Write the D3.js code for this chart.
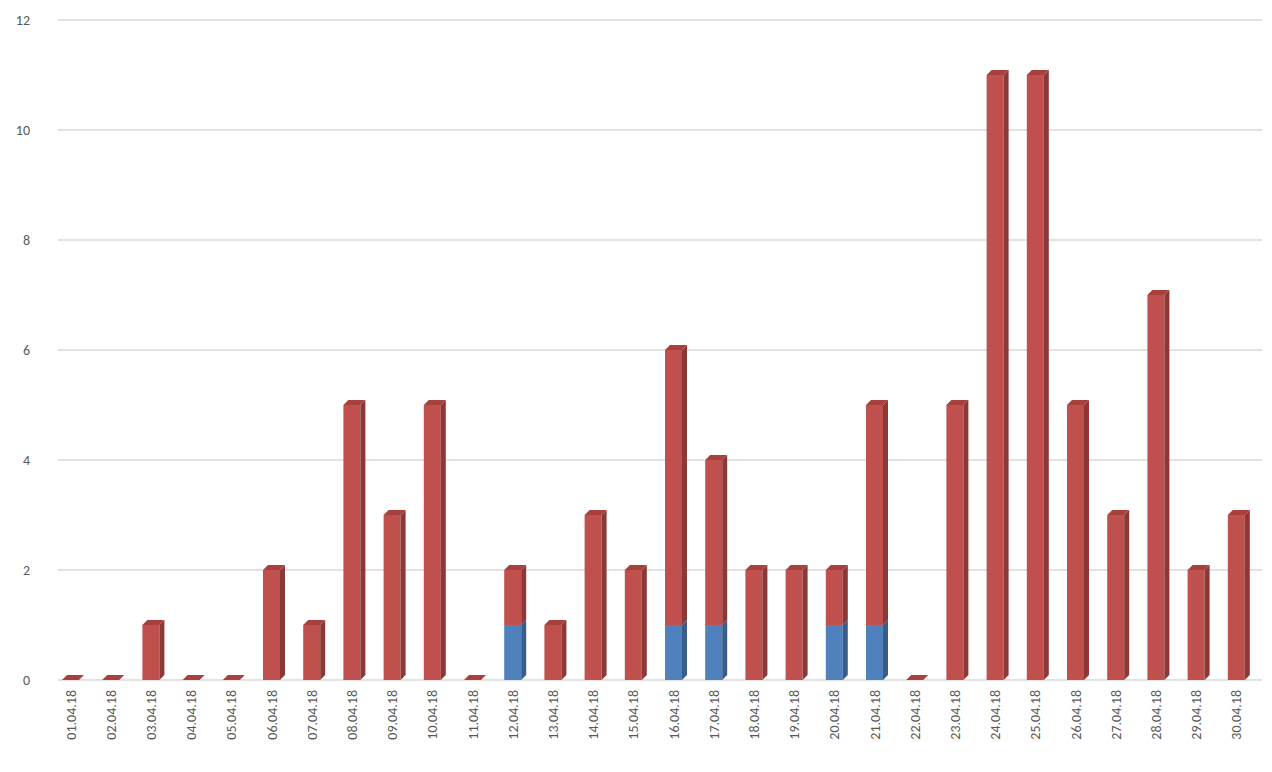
<!DOCTYPE html>
<html><head><meta charset="utf-8">
<script src="https://cdn.jsdelivr.net/npm/d3@7"></script>
<style>body{margin:0;background:#fff}text{font-family:Calibri,"Liberation Sans","Open Sans",sans-serif;fill:#595959;font-size:14px}</style>
</head><body><div id="chart"></div>
<script>
const dates = d3.range(1, 31).map(d => String(d).padStart(2, "0") + ".04.18");
const blueVals = [0,0,0,0,0,0,0,0,0,0,0,1,0,0,0,1,1,0,0,1,1,0,0,0,0,0,0,0,0,0];
const redVals  = [0,0,1,0,0,2,1,5,3,5,0,1,1,3,2,5,3,2,2,1,4,0,5,11,11,5,3,7,2,3];
const yTicks = [0,2,4,6,8,10,12];

const W = 1272, H = 772;
const svg = d3.select("#chart").append("svg").attr("width", W).attr("height", H);
const x = d3.scaleBand().domain(dates).range([42, 1248]);
const y = d3.scaleLinear().domain([0, 12]).range([680, 20]);
const bw = 17, dx = 5, dy = 5;

svg.append("g").selectAll("line").data(yTicks).join("line")
  .attr("x1", 58).attr("x2", 1262).attr("y1", d => y(d)).attr("y2", d => y(d))
  .attr("stroke", "#d9d9d9").attr("stroke-width", 1.3);
svg.append("g").selectAll("text").data(yTicks).join("text")
  .attr("x", 30).attr("y", d => y(d) + 5).attr("text-anchor", "end").text(d => d);

const series = [
  { vals: blueVals, front: "#4f81bd", side: "#385d8a", top: "#5b8cc8" },
  { vals: redVals, front: "#c0504d", side: "#8c3836", top: "#a8403d" }
];
const stacks = dates.map((d, i) => {
  let b = 0;
  return series.map(s => { const seg = { d, y0: b, y1: b + s.vals[i], s }; b += s.vals[i]; return seg; });
});
const g = svg.append("g");
stacks.forEach(segs => {
  const x0 = x(segs[0].d) + 20;
  segs.forEach((seg, k) => {
    const v = seg.y1 - seg.y0;
    const isTop = k === segs.length - 1;
    if (v > 0) {
      const yt = y(seg.y1), yb = y(seg.y0);
      g.append("rect").attr("x", x0).attr("y", yt).attr("width", bw).attr("height", yb - yt).attr("fill", seg.s.front);
      g.append("path").attr("d", `M${x0+bw},${yt}L${x0+bw+dx},${yt-dy}L${x0+bw+dx},${yb-dy}L${x0+bw},${yb}Z`).attr("fill", seg.s.side);
    }
    if (isTop) {
      const yt = y(seg.y1);
      g.append("path").attr("d", `M${x0},${yt}L${x0+dx},${yt-dy}L${x0+bw+dx},${yt-dy}L${x0+bw},${yt}Z`).attr("fill", seg.s.top);
    }
  });
});

svg.append("g").selectAll("text").data(dates).join("text")
  .attr("transform", d => `translate(${x(d) + 20 + bw/2 + 5},690) rotate(-90)`)
  .attr("text-anchor", "end").text(d => d);
</script></body></html>
